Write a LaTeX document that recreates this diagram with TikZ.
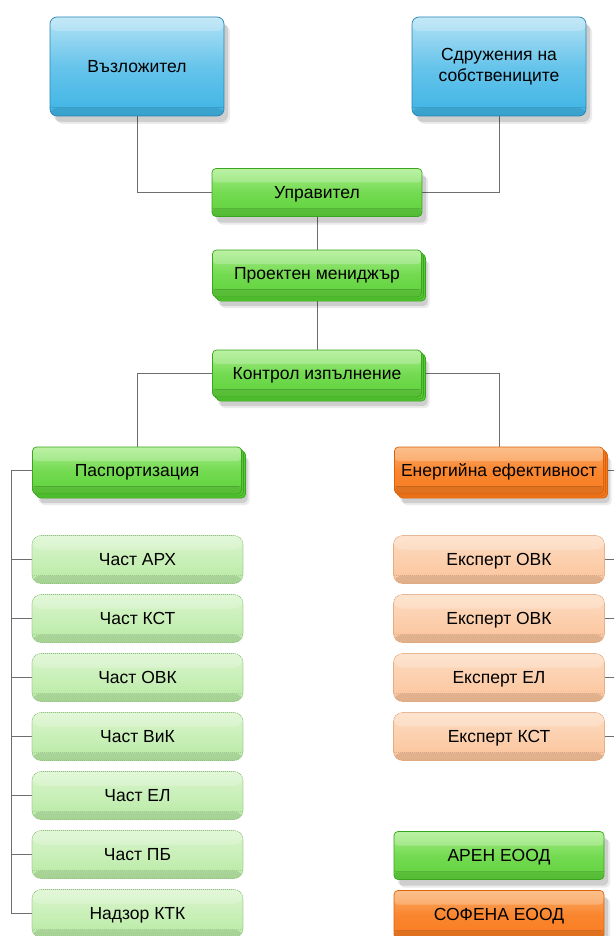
\documentclass[tikz,border=0pt]{standalone}
\usepackage{fontspec}
\setmainfont{Liberation Sans}
\usetikzlibrary{shadows,backgrounds}
\definecolor{bluetop}{HTML}{B4E2F5}
\definecolor{bluebot}{HTML}{3DB4E5}
\definecolor{blueborder}{HTML}{2A86B2}
\definecolor{greentop}{HTML}{A8EE8A}
\definecolor{greenbot}{HTML}{5ED23A}
\definecolor{greenborder}{HTML}{3AA51E}
\definecolor{greencopy}{HTML}{56C934}
\definecolor{orangetop}{HTML}{FCAE6C}
\definecolor{orangebot}{HTML}{F97C20}
\definecolor{orangeborder}{HTML}{D8640E}
\definecolor{orangecopy}{HTML}{F5781E}
\definecolor{lgtop}{HTML}{DAF5CD}
\definecolor{lgbot}{HTML}{B8EAA4}
\definecolor{lgborder}{HTML}{8CC27C}
\definecolor{lotop}{HTML}{FDDCC2}
\definecolor{lobot}{HTML}{FBC39A}
\definecolor{loborder}{HTML}{DC9A6A}
\definecolor{connc}{HTML}{6E6E6E}
\tikzset{
  gloss/.style={path picture={
      \fill[white,opacity=0.22] (path picture bounding box.north west) rectangle ([yshift=-14pt]path picture bounding box.north east);
      \fill[black,opacity=0.10] ([yshift=8pt]path picture bounding box.south west) rectangle (path picture bounding box.south east);
      \draw[black,opacity=0.12,line width=1pt] ([yshift=8pt]path picture bounding box.south west) -- ([yshift=8pt]path picture bounding box.south east);
  }},
  softshadow/.style={drop shadow={shadow xshift=4pt,shadow yshift=-6pt,opacity=0.12,fill=black},
                     drop shadow={shadow xshift=6pt,shadow yshift=-8pt,opacity=0.08,fill=black}},
  basebox/.style={rounded corners=4pt, inner sep=0pt, align=center,
      font=\fontsize{17.5}{21}\selectfont, text=black, line width=0.7pt},
  oneline/.style={text height=12.5pt, text depth=0pt},
  bluebox/.style={basebox, softshadow, rounded corners=7pt, minimum width=174pt, minimum height=99pt,
      top color=bluetop, bottom color=bluebot, middle color=bluebot!65!bluetop, draw=blueborder, gloss},
  greenbox/.style={basebox, oneline, softshadow, minimum width=210pt, minimum height=48pt,
      top color=greentop, bottom color=greenbot, middle color=greenbot!70!greentop, draw=greenborder, gloss},
  greenstack/.style={basebox, oneline, minimum width=209pt, minimum height=47pt,
      drop shadow={shadow xshift=6pt,shadow yshift=-9pt,opacity=0.12,fill=black},
      drop shadow={shadow xshift=8pt,shadow yshift=-11pt,opacity=0.08,fill=black},
      general shadow={shadow xshift=4pt,shadow yshift=-4pt,fill=greencopy,draw=greenborder},
      general shadow={shadow xshift=2pt,shadow yshift=-2pt,fill=greencopy,draw=greenborder},
      top color=greentop, bottom color=greenbot, middle color=greenbot!70!greentop, draw=greenborder, gloss},
  orangebox/.style={basebox, oneline, softshadow, minimum width=210pt, minimum height=48pt,
      top color=orangetop, bottom color=orangebot, middle color=orangebot!80!orangetop, draw=orangeborder, gloss},
  orangestack/.style={basebox, oneline, minimum width=209pt, minimum height=47pt,
      drop shadow={shadow xshift=6pt,shadow yshift=-9pt,opacity=0.12,fill=black},
      drop shadow={shadow xshift=8pt,shadow yshift=-11pt,opacity=0.08,fill=black},
      general shadow={shadow xshift=4pt,shadow yshift=-4pt,fill=orangecopy,draw=orangeborder},
      general shadow={shadow xshift=2pt,shadow yshift=-2pt,fill=orangecopy,draw=orangeborder},
      top color=orangetop, bottom color=orangebot, middle color=orangebot!80!orangetop, draw=orangeborder, gloss},
  lgbox/.style={basebox, oneline, rounded corners=9pt, minimum width=211pt, minimum height=48pt,
      top color=lgtop, bottom color=lgbot, draw=lgborder, line width=0.6pt,
      dash pattern=on 1.2pt off 0.8pt, gloss},
  lobox/.style={basebox, oneline, rounded corners=9pt, minimum width=211pt, minimum height=48pt,
      top color=lotop, bottom color=lobot, draw=loborder, line width=0.6pt,
      dash pattern=on 1.2pt off 0.8pt, gloss},
  conn/.style={draw=connc, line width=0.8pt}
}
\begin{document}
\begin{tikzpicture}[x=1pt,y=-1pt]
\useasboundingbox (0,0) rectangle (614,936);
% top level
\node[bluebox] (voz) at (137,66.5) {Възложител};
\node[bluebox] (sdr) at (499,66.5) {Сдружения на\\собствениците};
\node[greenbox] (upr) at (317,192.5) {Управител};
\node[greenstack] (pm) at (317,273.5) {Проектен мениджър};
\node[greenstack] (ctl) at (317,373.5) {Контрол изпълнение};
\node[greenstack] (pas) at (137,470.5) {Паспортизация};
\node[orangestack] (ene) at (499,470.5) {Енергийна ефективност};
% left children
\node[lgbox] (c1) at (137.5,559.5) {Част АРХ};
\node[lgbox] (c2) at (137.5,618.5) {Част КСТ};
\node[lgbox] (c3) at (137.5,677.5) {Част ОВК};
\node[lgbox] (c4) at (137.5,736.5) {Част ВиК};
\node[lgbox] (c5) at (137.5,795.5) {Част ЕЛ};
\node[lgbox] (c6) at (137.5,854.5) {Част ПБ};
\node[lgbox] (c7) at (137.5,913.5) {Надзор КТК};
% right children
\node[lobox] (e1) at (499,559.5) {Експерт ОВК};
\node[lobox] (e2) at (499,618.5) {Експерт ОВК};
\node[lobox] (e3) at (499,677.5) {Експерт ЕЛ};
\node[lobox] (e4) at (499,736.5) {Експерт КСТ};
% legend-like boxes
\node[greenbox] (aren) at (499,855.5) {АРЕН ЕООД};
\node[orangebox] (sof) at (499,914.5) {СОФЕНА ЕООД};
% connectors
\coordinate (bus) at (11.5,470.5);
\coordinate (rb) at (614,470.5);
\begin{scope}[on background layer]
\draw[conn] (voz.south) |- (upr.west);
\draw[conn] (sdr.south) |- (upr.east);
\draw[conn] (upr.south) -- (pm.north);
\draw[conn] (pm.south) -- (ctl.north);
\draw[conn] (ctl.west) -| (pas.north);
\draw[conn] (ctl.east) -| (ene.north);
\draw[conn] (pas.west) -- (bus) |- (c7.west);
\foreach \c in {c1,c2,c3,c4,c5,c6}{\draw[conn] (\c.west) -- (\c.west -| bus);}
\draw[conn] (ene.east) -- (rb);
\foreach \e in {e1,e2,e3,e4}{\draw[conn] (\e.east) -- (\e.east -| rb);}
\end{scope}
\end{tikzpicture}
\end{document}
